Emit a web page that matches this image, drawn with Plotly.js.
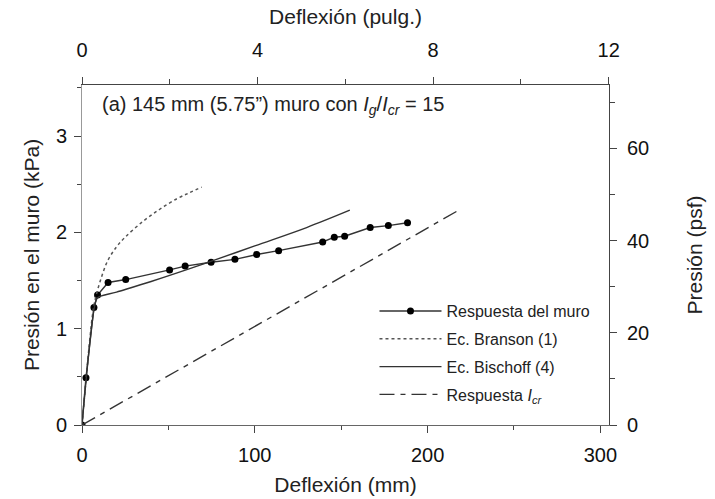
<!DOCTYPE html>
<html>
<head>
<meta charset="utf-8">
<script src="https://cdn.plot.ly/plotly-3.0.1.min.js"></script>
<style>html,body{margin:0;padding:0;background:#fff;}#chart{width:715px;height:499px;}</style>
</head>
<body>
<div id="chart"></div>
<script>
// Respuesta del muro (mm, kPa)
const muroX = [0, 2.3, 6.9, 9.0, 15.1, 25.3, 50.7, 59.7, 74.7, 88.5, 101.1, 113.8, 139.3, 146, 152, 166.8, 177.3, 188.4];
const muroY = [0, 0.49, 1.22, 1.35, 1.48, 1.51, 1.61, 1.65, 1.69, 1.72, 1.77, 1.81, 1.90, 1.95, 1.96, 2.05, 2.07, 2.10];
// Ec. Branson (1)
const bransonX = [0, 6.5, 8, 11, 15, 20, 25, 35, 45, 55, 62, 69.3];
const bransonY = [0, 1.2, 1.33, 1.52, 1.71, 1.85, 1.95, 2.11, 2.24, 2.35, 2.41, 2.47];
// Ec. Bischoff (4)
const bischoffX = [0, 7.5, 9, 20, 40, 70, 100, 130, 155];
const bischoffY = [0, 1.25, 1.32, 1.38, 1.49, 1.67, 1.86, 2.05, 2.23];
// Respuesta Icr
const icrX = [0, 218];
const icrY = [0, 2.23];

const names = ['Respuesta del muro', 'Ec. Branson (1)', 'Ec. Bischoff (4)', 'Respuesta <i>I</i><sub><i>cr</i></sub>'];

const xMax = 305;   // mm
const yMax = 3.53;  // kPa
const KPA_TO_PSF = 20.885;
const MM_PER_IN = 25.4;

const FONT = 'Liberation Sans, Arial, sans-serif';
const AX = '#444';

const traces = [
  {x: muroX, y: muroY, name: names[0], mode: 'lines+markers', legendgroup: 'a',
   line: {color: '#333', width: 1.4}, marker: {color: '#000', size: 7}},
  {x: bransonX, y: bransonY, name: names[1], mode: 'lines', legendgroup: 'b', line: {shape: 'spline', color: '#555', width: 1.5, dash: 'dot'}},
  {x: bischoffX, y: bischoffY, name: names[2], mode: 'lines', legendgroup: 'c', line: {shape: 'spline', color: '#333', width: 1.4}},
  {x: icrX, y: icrY, name: names[3], mode: 'lines', legendgroup: 'd', line: {color: '#333', width: 1.4, dash: '15px,6px,5px,6px'}},
  // dummy traces to activate secondary axes
  {x: [0], y: [0], xaxis: 'x2', yaxis: 'y', mode: 'markers', marker: {opacity: 0}, showlegend: false, hoverinfo: 'skip'},
  {x: [0], y: [0], xaxis: 'x', yaxis: 'y2', mode: 'markers', marker: {opacity: 0}, showlegend: false, hoverinfo: 'skip'}
];

const tickFont = {family: FONT, size: 20, color: '#111'};
const titleFont = {family: FONT, size: 21, color: '#222'};

const layout = {
  width: 715, height: 499,
  margin: {l: 82, r: 106, t: 85, b: 74},
  paper_bgcolor: '#fff', plot_bgcolor: '#fff',
  font: {family: FONT, color: '#111'},
  showlegend: true,
  legend: {x: 0.555, y: 0.385, xanchor: 'left', yanchor: 'top', font: {family: FONT, size: 16, color: '#222'},
           bgcolor: 'rgba(0,0,0,0)', traceorder: 'grouped', tracegroupgap: 4, itemwidth: 62},
  xaxis: {range: [0, xMax], tickvals: [0, 100, 200, 300], ticks: 'outside', ticklen: 7, tickcolor: AX, ticklabelstandoff: 5,
          minor: {tickvals: [50, 150, 250], ticks: 'outside', ticklen: 4, tickcolor: AX},
          showline: true, linecolor: '#666', linewidth: 1, showgrid: false, zeroline: false, tickfont: tickFont,
          title: {text: 'Deflexión (mm)', font: titleFont, standoff: 12}},
  xaxis2: {overlaying: 'x', side: 'top', range: [0, xMax / MM_PER_IN], tickvals: [0, 4, 8, 12], ticks: 'outside', ticklen: 7, tickcolor: AX, ticklabelstandoff: 12,
           minor: {tickvals: [2, 6, 10], ticks: 'outside', ticklen: 5, tickcolor: AX},
           showline: true, linecolor: AX, linewidth: 1, showgrid: false, zeroline: false, tickfont: tickFont,
           title: {text: 'Deflexión (pulg.)', font: titleFont, standoff: 8}},
  yaxis: {range: [0, yMax], tickvals: [0, 1, 2, 3], ticks: 'outside', ticklen: 7, tickcolor: AX, ticklabelstandoff: 3,
          minor: {tickvals: [0.5, 1.5, 2.5, 3.5], ticks: 'outside', ticklen: 4, tickcolor: AX},
          showline: true, linecolor: '#999', linewidth: 1, showgrid: false, zeroline: false, tickfont: tickFont,
          title: {text: 'Presión en el muro (kPa)', font: titleFont, standoff: 10}},
  yaxis2: {overlaying: 'y', side: 'right', range: [0, yMax * KPA_TO_PSF], tickvals: [0, 20, 40, 60], ticks: 'outside', ticklen: 7, tickcolor: AX, ticklabelstandoff: 6,
           minor: {tickvals: [10, 30, 50, 70], ticks: 'outside', ticklen: 5, tickcolor: AX},
           showline: true, linecolor: AX, linewidth: 1, showgrid: false, zeroline: false, tickfont: tickFont,
           title: {text: 'Presión (psf)', font: titleFont, standoff: 39}},
  annotations: [{
    xref: 'paper', yref: 'paper', x: 0.034, y: 0.94, xanchor: 'left', yanchor: 'middle', showarrow: false,
    text: '(a) 145 mm (5.75”) muro con <i>I</i><sub><i>g</i></sub>/<i>I</i><sub><i>cr</i></sub> = 15',
    font: {family: FONT, size: 20, color: '#222'}
  }]
};

Plotly.newPlot('chart', traces, layout, {displayModeBar: false, staticPlot: true});
</script>
</body>
</html>
